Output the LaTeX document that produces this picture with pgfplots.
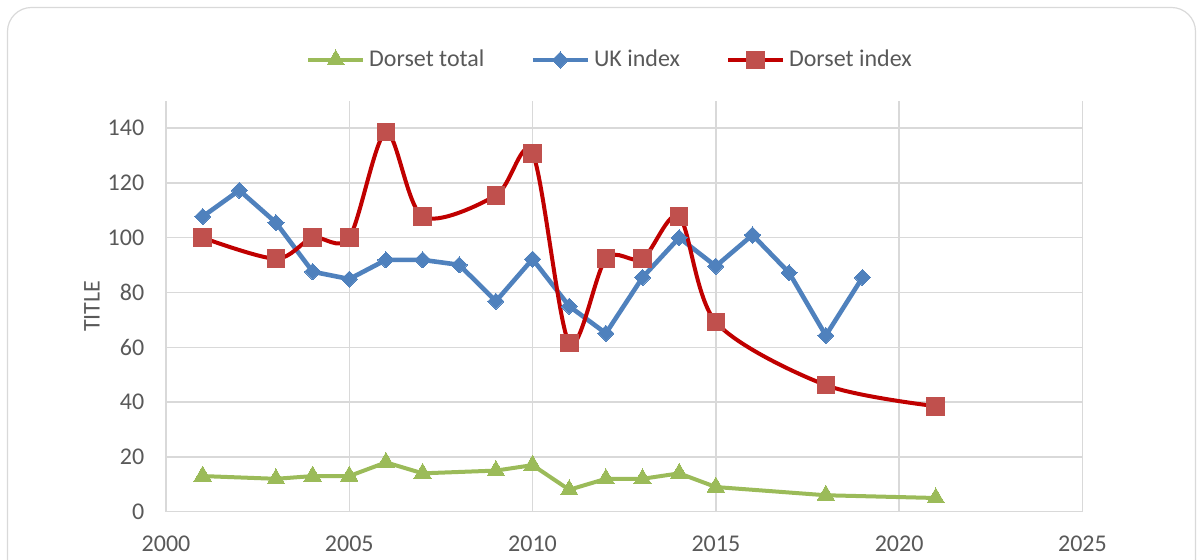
\documentclass[border=0pt]{standalone}
\usepackage{pgfplots}
\pgfplotsset{compat=1.18}
\usepackage{fontspec}
\setmainfont{Carlito}
\definecolor{gridgrey}{HTML}{D9D9D9}
\definecolor{txtgrey}{HTML}{595959}
\definecolor{dgreen}{HTML}{9BBB59}
\definecolor{dblue}{HTML}{4F81BD}
\definecolor{dredline}{HTML}{C00000}
\definecolor{dredmark}{HTML}{C0504D}
\begin{document}
\begin{tikzpicture}
\begin{axis}[
  at={(0,0)}, anchor=south west,
  scale only axis, width=458.2pt, height=205.5pt,
  xmin=2000, xmax=2025, ymin=0, ymax=150,
  xtick={2000,2005,...,2025}, ytick={0,20,...,140},
  /pgf/number format/1000 sep={},
  /pgf/number format/assume math mode=true,
  major tick length=0pt,
  axis line style={draw=none},
  grid=major,
  major grid style={draw=gridgrey, line width=0.7pt},
  tick label style={font=\fontsize{12}{14}\selectfont, text=txtgrey},
  xticklabel style={anchor=center, yshift=-15.9pt},
  yticklabel style={anchor=east, xshift=-7.35pt},
  ylabel={TITLE},
  ylabel style={at={(axis description cs:-0.0808,0.5)}, anchor=center, font=\fontsize{12}{14}\selectfont, text=txtgrey},
  legend columns=3,
  legend style={at={(axis description cs:0.4856,1.099)}, anchor=center, draw=none, fill=none,
    font=\fontsize{12}{14}\selectfont, text=txtgrey,
    /tikz/every even column/.append style={column sep=21pt}},
  legend cell align=left,
  legend image code/.code={\draw[mark repeat=2,mark phase=2,#1] plot coordinates {(0pt,0pt) (13.75pt,0pt) (27.5pt,0pt)};},
]
\addplot[dgreen, line width=2pt, mark=triangle*, mark size=5pt, mark options={fill=dgreen, draw=dgreen, line width=0pt}]
  coordinates {(2001,13) (2003,12) (2004,13) (2005,13) (2006,18) (2007,14) (2009,15) (2010,17) (2011,8) (2012,12) (2013,12) (2014,14) (2015,9) (2018,6) (2021,5)};
\addlegendentry{Dorset total}
\addplot[dblue, line width=2.3pt, mark=square*, mark size=2.85pt, mark options={rotate=45, fill=dblue, draw=dblue, line width=0pt}]
  coordinates {(2001,107.7) (2002,117.3) (2003,105.5) (2004,87.6) (2005,84.9) (2006,91.9) (2007,91.9) (2008,90.1) (2009,76.8) (2010,92.2) (2011,75.0) (2012,65.1) (2013,85.5) (2014,100.0) (2015,89.6) (2016,101.0) (2017,87.2) (2018,64.3) (2019,85.5)};
\addlegendentry{UK index}
\addplot[dredline, line width=2pt, smooth, tension=0.5, mark=square*, mark size=4.4pt, mark options={fill=dredmark, draw=dredmark, line width=0pt}]
  coordinates {(2001,100) (2003,92.3) (2004,100) (2005,100) (2006,138.5) (2007,107.7) (2009,115.4) (2010,130.8) (2011,61.5) (2012,92.3) (2013,92.3) (2014,107.7) (2015,69.2) (2018,46.2) (2021,38.5)};
\addlegendentry{Dorset index}
\end{axis}
\draw[gridgrey, line width=0.6pt, rounded corners=12pt] (-79.25pt,-60pt) -- (-79.25pt,252.1pt) -- (514.75pt,252.1pt) -- (514.75pt,-60pt);
\pgfresetboundingbox
\useasboundingbox (-83pt,-24.15pt) rectangle (515.5pt,255.85pt);
\end{tikzpicture}
\end{document}
